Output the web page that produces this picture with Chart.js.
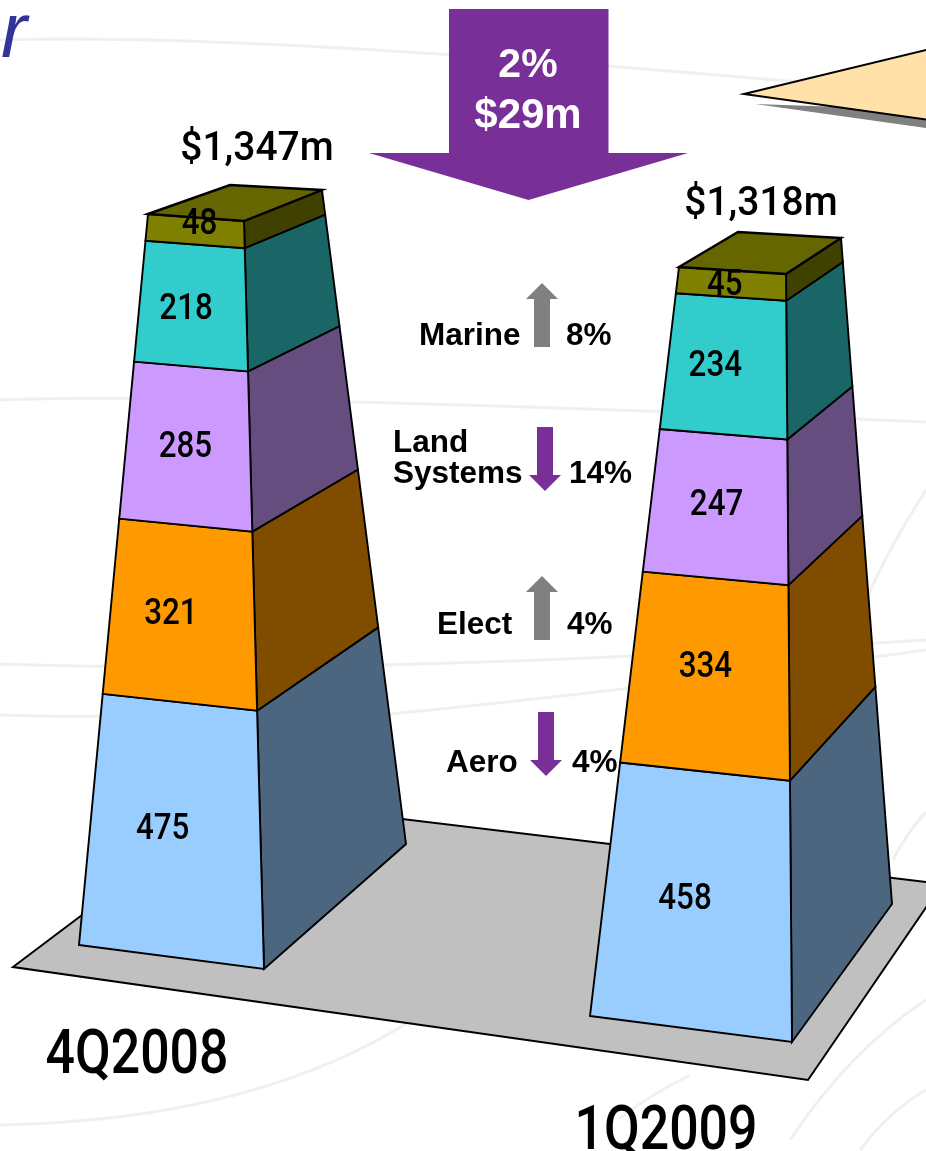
<!DOCTYPE html>
<html>
<head>
<meta charset="utf-8">
<title>Revenue by segment</title>
<script src="https://cdn.jsdelivr.net/npm/chart.js@4"></script>
<style>
  html, body { margin: 0; padding: 0; background: #fff; }
  canvas { display: block; }
</style>
</head>
<body>
<canvas id="chart" width="926" height="1151"></canvas>
<script>
const categories = ["4Q2008", "1Q2009"];
const segments = ["Aero", "Elect", "Land Systems", "Marine", "Other"];
const aero = [475, 458];
const elect = [321, 334];
const land = [285, 247];
const marine = [218, 234];
const other = [48, 45];
const totalLabels = ["$1,347m", "$1,318m"];
const segmentColors = ["#99CCFF", "#FF9900", "#CC99FF", "#33CCCC", "#808000"];
const sideColors = ["#4D6680", "#804D00", "#664D80", "#1A6666", "#404000"];

const changeNames = ["Marine", "Land\nSystems", "Elect", "Aero"];
const changePcts = ["8%", "14%", "4%", "4%"];
const changeUp = [true, false, true, false];
const overallChange = ["2%", "$29m"];

// tower corners on the page: [at value 0, at stack total]
const towers = [
  { fl: [[79, 945], [148, 214]], fr: [[264, 969], [244, 221]], br: [[406, 844], [322, 190]], bl: [230, 185],
    nudge: [[-13, -4], [-12, -3], [-3, -2], [-7, 1], [4, -10]],
    total: [257, 145], name: [137, 1051] },
  { fl: [[590, 1016], [679, 267]], fr: [[792, 1042], [786, 274]], br: [[892, 904], [841, 238]], bl: [738, 232],
    nudge: [[-13, -4], [-5, -11], [-3, -4], [-12, -3], [-7, -2]],
    total: [761, 200], name: [666, 1127] }
];
// the drawn edges are not quite straight in value, back edge less so
const bend = { fl: 1.025, fr: 1.02, br: 1.06 };

const changeLayout = [
  { name: [419, 345], pct: [566, 345], arrowX: 542, y0: 347, y1: 283 },
  { name: [393, 452], pct: [569, 483], arrowX: 545, y0: 427, y1: 491 },
  { name: [437, 634], pct: [567, 634], arrowX: 542, y0: 640, y1: 576 },
  { name: [446, 772], pct: [572, 772], arrowX: 546, y0: 712, y1: 776 }
];

function poly(ctx, pts, fill, stroke, lw) {
  ctx.beginPath();
  pts.forEach((p, i) => i ? ctx.lineTo(p[0], p[1]) : ctx.moveTo(p[0], p[1]));
  ctx.closePath();
  if (fill) { ctx.fillStyle = fill; ctx.fill(); }
  if (stroke) { ctx.strokeStyle = stroke; ctx.lineWidth = lw; ctx.lineJoin = "miter"; ctx.stroke(); }
}

function label(ctx, text, x, y, font, color, sx, align) {
  ctx.save();
  ctx.translate(x, y);
  ctx.scale(sx, 1);
  ctx.font = font;
  ctx.fillStyle = color;
  ctx.textAlign = align || "center";
  ctx.textBaseline = "alphabetic";
  ctx.fillText(text, 0, 0);
  ctx.restore();
}

function edgePoint(edge, f, g) {
  const k = Math.pow(f, g);
  return [edge[0][0] + (edge[1][0] - edge[0][0]) * k, edge[0][1] + (edge[1][1] - edge[0][1]) * k];
}

function drawBackdrop(ctx) {
  const swooshes = [
    [[0, 40], [230, 32], [800, 82]],
    [[0, 400], [200, 392], [926, 422]],
    [[0, 664], [120, 668], [200, 665]],
    [[0, 715], [60, 717], [110, 716]],
    [[380, 665], [600, 660], [926, 640]],
    [[370, 716], [640, 690], [926, 650]],
    [[0, 1125], [260, 1120], [420, 1015]],
    [[866, 600], [890, 545], [926, 490]],
    [[893, 860], [905, 835], [926, 812]],
    [[790, 1140], [850, 1050], [926, 1000]],
    [[860, 1150], [890, 1110], [926, 1090]],
    [[620, 1118], [650, 1095], [690, 1075]]
  ];
  ctx.save();
  ctx.strokeStyle = "#F0F0F0";
  ctx.lineWidth = 3;
  swooshes.forEach(s => {
    ctx.beginPath();
    ctx.moveTo(s[0][0], s[0][1]);
    ctx.quadraticCurveTo(s[1][0], s[1][1], s[2][0], s[2][1]);
    ctx.stroke();
  });
  ctx.restore();

  label(ctx, "r", 1, 57, "italic 78px 'Liberation Sans'", "#333399", 1, "left");

  // wedge at top right
  poly(ctx, [[755, 104], [926, 128], [926, 110]], "#808080");
  poly(ctx, [[744, 94], [930, 49], [930, 120]], "#FFE1A9", "#000", 2);

  // floor
  poly(ctx, [[13, 967], [236, 799], [942, 884], [808, 1080]], "#C0C0C0", "#000", 2);
}

function drawTower(chart, col) {
  const ctx = chart.ctx, y = chart.scales.y, t = towers[col];
  const total = chart.data.datasets.reduce((s, d) => s + d.data[col], 0);
  const span = y.getPixelForValue(0) - y.getPixelForValue(total);
  const labels = [];

  chart.data.datasets.forEach((ds, i) => {
    const bar = chart.getDatasetMeta(i).data[col];
    const f0 = (y.getPixelForValue(0) - bar.base) / span;
    const f1 = (y.getPixelForValue(0) - bar.y) / span;
    const a = edgePoint(t.fl, f0, bend.fl), b = edgePoint(t.fr, f0, bend.fr), c = edgePoint(t.br, f0, bend.br);
    const d = edgePoint(t.fl, f1, bend.fl), e = edgePoint(t.fr, f1, bend.fr), f = edgePoint(t.br, f1, bend.br);
    poly(ctx, [b, c, f, e], sideColors[i], "#000", 1.9);
    poly(ctx, [a, b, e, d], segmentColors[i], "#000", 1.9);
    labels.push([ds.data[col], (a[0] + b[0] + d[0] + e[0]) / 4 + t.nudge[i][0], (a[1] + b[1] + d[1] + e[1]) / 4 + t.nudge[i][1]]);
    if (i === chart.data.datasets.length - 1) {
      // top of the stack
      poly(ctx, [d, t.bl, f, e], "#666600", "#000", 2.4);
    }
  });

  labels.forEach(l => label(ctx, String(l[0]), l[1], l[2] + 13, "500 36px Roboto", "#000", 0.87));
  label(ctx, totalLabels[col], t.total[0], t.total[1] + 15, "500 41px Roboto", "#000", 0.95);
  label(ctx, categories[col], t.name[0], t.name[1] + 22, "500 61px Roboto", "#000", 0.85);
}

function drawChanges(ctx) {
  const purple = "#783098";
  // big arrow
  poly(ctx, [[449, 9], [608.5, 9], [608.5, 153], [688, 153], [528.5, 200], [369, 153], [449, 153]], purple);
  label(ctx, overallChange[0], 528, 77, "bold 41px 'Liberation Sans'", "#fff", 1);
  label(ctx, overallChange[1], 528, 128, "bold 42px 'Liberation Sans'", "#fff", 1);

  changeNames.forEach((n, i) => {
    const l = changeLayout[i], x = l.arrowX, dir = changeUp[i] ? -1 : 1;
    const wing = l.y1 - dir * 16;
    poly(ctx, [[x - 8, l.y0], [x + 8, l.y0], [x + 8, wing], [x + 16, wing], [x, l.y1], [x - 16, wing], [x - 8, wing]],
      changeUp[i] ? "#808080" : purple);
    n.split("\n").forEach((line, k) => {
      label(ctx, line, l.name[0], l.name[1] + k * 31, "bold 31.5px 'Liberation Sans'", "#000", 1, "left");
    });
    label(ctx, changePcts[i], l.pct[0], l.pct[1], "bold 31.5px 'Liberation Sans'", "#000", 1, "left");
  });
}

const towerPlugin = {
  id: "towers",
  beforeDatasetsDraw(chart) {
    const ctx = chart.ctx;
    drawBackdrop(ctx);
    categories.forEach((c, col) => drawTower(chart, col));
    drawChanges(ctx);
    return false; // flat bars are replaced by the towers
  }
};

const seriesValues = [aero, elect, land, marine, other];

new Chart(document.getElementById("chart"), {
  type: "bar",
  data: {
    labels: categories,
    datasets: segments.map((name, i) => ({
      label: name,
      data: seriesValues[i],
      backgroundColor: segmentColors[i]
    }))
  },
  options: {
    responsive: false,
    animation: false,
    layout: { padding: 0 },
    plugins: { legend: { display: false }, tooltip: { enabled: false } },
    scales: {
      x: { stacked: true, display: false },
      y: { stacked: true, display: false, min: 0, max: 1400 }
    }
  },
  plugins: [towerPlugin]
});
</script>
</body>
</html>
